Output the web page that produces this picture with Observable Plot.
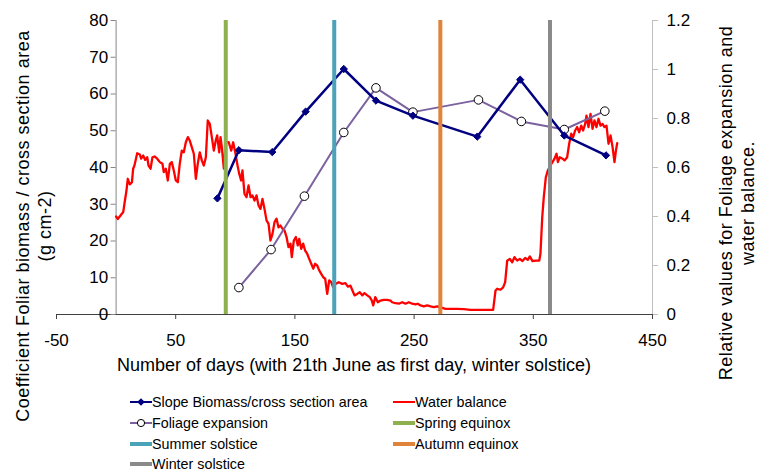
<!DOCTYPE html>
<html><head><meta charset="utf-8">
<script src="https://cdn.jsdelivr.net/npm/d3@7"></script>
<script src="https://cdn.jsdelivr.net/npm/@observablehq/plot@0.6"></script>
<style>
body{margin:0;background:#fff;font-family:"Liberation Sans",Arial,sans-serif;color:#000;}
#wrap{position:relative;width:757px;height:473px;overflow:hidden;}
.vt{position:absolute;white-space:nowrap;font-size:18px;letter-spacing:0.5px;line-height:21.5px;text-align:center;transform:translate(-50%,-50%) rotate(-90deg);}
.xt{position:absolute;white-space:nowrap;font-size:18px;transform:translate(-50%,-50%);}
.lg{position:absolute;display:flex;align-items:center;font-size:14.3px;white-space:nowrap;transform:translateY(-50%);}
.lg svg{display:block;}
</style></head>
<body>
<div id="wrap"></div>
<script>
// ---- data ----
const xTicks = [-50, 50, 150, 250, 350, 450];
const leftTicks = [0, 10, 20, 30, 40, 50, 60, 70, 80];
const rightTicks = [0, 0.2, 0.4, 0.6, 0.8, 1, 1.2];
const rightTickLabels = ["0", "0.2", "0.4", "0.6", "0.8", "1", "1.2"];

const slopeDays = [85, 103, 131, 159, 191, 218, 249, 303, 339, 376, 411];
const slopeVals = [31.6, 44.7, 44.2, 55.2, 66.8, 58.2, 54.1, 48.4, 63.9, 48.7, 43.3];

const foliageDays = [103, 130, 158, 191, 218, 249, 304, 340, 376, 410];
const foliageVals = [0.11, 0.265, 0.483, 0.743, 0.925, 0.826, 0.876, 0.788, 0.755, 0.83];

const waterDays = [0, 1.4, 3.7, 6, 7, 8.7, 9.8, 11.5, 13.3, 14.3, 15.4, 17.7, 19.9, 21, 22.7, 24.4, 26.1, 27.2, 28.9, 30.5, 32.2, 34.5, 36.7, 38.9, 40, 41.7, 43.4, 45.1, 46.7, 48.4, 50.1, 51.8, 53.4, 55.1, 56.8, 58.5, 60.2, 61.8, 63.5, 65.2, 66.9, 68.5, 70.2, 71.9, 73.6, 75.3, 76.9, 78.6, 80.3, 82, 83.6, 84.8, 86.5, 87.6, 88.7, 90.4, 92, 94.5, 96.6, 98.2, 100.2, 101.6, 103.3, 104.9, 106, 107.7, 109.4, 111.1, 112.8, 114.4, 116.1, 117.8, 119.5, 121.1, 122.8, 124.5, 126.2, 127.9, 129.5, 131.2, 132.9, 134.6, 136.2, 137.9, 139.6, 141.3, 143, 144.6, 146.3, 147.4, 149.1, 150.8, 152.4, 153.6, 155.3, 156.9, 158.6, 160.3, 162, 163.7, 165.4, 167, 168.7, 170.4, 172.1, 173.8, 175.4, 177.1, 178.8, 180.5, 182.1, 184.1, 186.8, 189.7, 192.4, 194.4, 196.6, 198.3, 200, 202.3, 204.4, 206.5, 208.4, 210.7, 212.8, 214.5, 215.7, 217.4, 219.6, 221.8, 224.6, 227.4, 230.2, 231.6, 234.4, 237.2, 240, 242.8, 245.6, 248.4, 251.2, 253.1, 255.4, 258.1, 261, 263.8, 266.5, 269.4, 273.6, 276.3, 280.5, 286.2, 291.7, 297.3, 302.9, 308.5, 316.3, 318.3, 319.7, 322.5, 324.7, 326.4, 328.1, 330.3, 332.3, 334.2, 336.5, 338.7, 340.9, 343.2, 345.4, 347.1, 349.3, 352.1, 355, 356, 357.5, 358.8, 360.5, 362.2, 364.5, 366.1, 367.8, 369.5, 370.6, 372.2, 374.5, 376.2, 378.4, 380.1, 381.8, 383.4, 385.1, 386.8, 388.5, 390.2, 391.8, 393.5, 394.6, 396.3, 398, 399.7, 401.3, 403, 404.7, 406.4, 408.1, 409.7, 411.4, 413.1, 414.8, 416.5, 418.1, 419.3, 420.4];
const waterVals = [0.40, 0.39, 0.404, 0.418, 0.452, 0.506, 0.554, 0.531, 0.540, 0.595, 0.608, 0.658, 0.653, 0.636, 0.649, 0.631, 0.642, 0.608, 0.595, 0.642, 0.645, 0.636, 0.622, 0.615, 0.581, 0.595, 0.547, 0.615, 0.622, 0.588, 0.547, 0.540, 0.615, 0.669, 0.662, 0.703, 0.724, 0.710, 0.683, 0.656, 0.554, 0.615, 0.662, 0.629, 0.608, 0.642, 0.792, 0.778, 0.724, 0.669, 0.710, 0.731, 0.662, 0.724, 0.683, 0.595, 0.703, 0.703, 0.669, 0.703, 0.656, 0.615, 0.574, 0.547, 0.588, 0.493, 0.479, 0.527, 0.479, 0.486, 0.465, 0.486, 0.445, 0.431, 0.472, 0.431, 0.384, 0.370, 0.302, 0.329, 0.377, 0.391, 0.356, 0.363, 0.350, 0.343, 0.316, 0.275, 0.289, 0.234, 0.302, 0.316, 0.282, 0.309, 0.268, 0.289, 0.261, 0.248, 0.227, 0.207, 0.187, 0.207, 0.200, 0.180, 0.166, 0.152, 0.146, 0.084, 0.139, 0.132, 0.111, 0.125, 0.132, 0.125, 0.128, 0.114, 0.118, 0.098, 0.078, 0.084, 0.091, 0.078, 0.087, 0.078, 0.071, 0.057, 0.037, 0.071, 0.050, 0.057, 0.060, 0.060, 0.057, 0.050, 0.046, 0.044, 0.050, 0.044, 0.050, 0.044, 0.041, 0.044, 0.037, 0.033, 0.037, 0.033, 0.030, 0.033, 0.027, 0.023, 0.023, 0.023, 0.022, 0.019, 0.019, 0.019, 0.019, 0.098, 0.105, 0.101, 0.111, 0.132, 0.220, 0.227, 0.213, 0.234, 0.220, 0.227, 0.218, 0.231, 0.223, 0.237, 0.218, 0.220, 0.220, 0.248, 0.397, 0.479, 0.560, 0.588, 0.610, 0.622, 0.636, 0.656, 0.622, 0.642, 0.636, 0.629, 0.642, 0.697, 0.738, 0.724, 0.751, 0.765, 0.744, 0.771, 0.751, 0.778, 0.812, 0.765, 0.819, 0.758, 0.792, 0.765, 0.799, 0.771, 0.778, 0.765, 0.771, 0.697, 0.731, 0.683, 0.622, 0.669, 0.699];

const eventNames = ["Spring equinox", "Summer solstice", "Autumn equinox", "Winter solstice"];
const eventDays = [92, 183, 272, 364];
const eventColors = ["#8EB04F", "#4BA3BA", "#E0843C", "#8A8A8A"];

const seriesNames = ["Slope Biomass/cross section area", "Foliage expansion", "Water balance"];
const seriesColors = ["#000080", "#7B619E", "#FF0000"];

// ---- tables ----
const K = 80 / 1.2; // right axis units -> left axis units
const slope = slopeDays.map((d, i) => ({day: d, v: slopeVals[i]}));
const foliage = foliageDays.map((d, i) => ({day: d, v: foliageVals[i]}));
const water = waterDays.map((d, i) => ({day: d, v: waterVals[i]}));
const events = eventDays.map((d, i) => ({day: d, name: eventNames[i], color: eventColors[i]}));

const W = 757, H = 473, mL = 56, mR = 105, mT = 20, mB = 159;
const zeroOffset = (W - mL - mR) * (0 - xTicks[0]) / (xTicks[xTicks.length - 1] - xTicks[0]);

const chart = Plot.plot({
  width: W, height: H,
  marginLeft: mL, marginRight: mR, marginTop: mT, marginBottom: mB,
  x: {domain: [xTicks[0], xTicks[xTicks.length - 1]]},
  y: {domain: [leftTicks[0], leftTicks[leftTicks.length - 1]]},
  color: {type: "identity"},
  style: {fontFamily: "'Liberation Sans', Arial, sans-serif", fontSize: "17px", color: "#000", background: "#fff"},
  marks: [
    Plot.ruleY([0], {stroke: "#404040", strokeWidth: 1}),
    Plot.axisX(xTicks, {tickSize: 5, tickPadding: 14, stroke: "#404040", fill: "#000", tickFormat: d => String(d), label: null}),
    Plot.ruleX([0], {stroke: "#868686", strokeWidth: 1}),
    Plot.axisY(leftTicks, {anchor: "left", dx: zeroOffset, tickSize: 5, tickPadding: 3, stroke: "#868686", fill: "#000", tickFormat: d => String(d), label: null}),
    Plot.ruleX([xTicks[xTicks.length - 1]], {stroke: "#BFBFBF", strokeWidth: 1}),
    Plot.axisY(rightTicks.map(v => v * K), {anchor: "right", tickSize: 5, tickPadding: 9, stroke: "#BFBFBF", fill: "#000",
      tickFormat: d => rightTickLabels[rightTicks.findIndex(v => Math.abs(v * K - d) < 1e-6)], label: null}),
    Plot.line(water, {x: "day", y: d => d.v * K, stroke: seriesColors[2], strokeWidth: 2.3}),
    Plot.line(foliage, {x: "day", y: d => d.v * K, stroke: seriesColors[1], strokeWidth: 2}),
    Plot.dot(foliage, {x: "day", y: d => d.v * K, r: 4.3, stroke: "#000", fill: "#fff", strokeWidth: 1}),
    Plot.line(slope, {x: "day", y: "v", stroke: seriesColors[0], strokeWidth: 2.5}),
    Plot.dot(slope, {x: "day", y: "v", symbol: "diamond2", r: 3.3, fill: seriesColors[0], stroke: seriesColors[0], strokeWidth: 1}),
    Plot.ruleX(events, {x: "day", stroke: "color", strokeWidth: 4})
  ]
});

const wrap = document.getElementById("wrap");
wrap.appendChild(chart);

function addDiv(cls, html, x, y) {
  const el = document.createElement("div");
  el.className = cls;
  el.innerHTML = html;
  el.style.left = x + "px";
  el.style.top = y + "px";
  wrap.appendChild(el);
  return el;
}
addDiv("vt", "Coefficient Foliar biomass / cross section area<br>(g cm-2)", 33.5, 226);
addDiv("vt", "Relative values for Foliage expansion and<br>water balance.", 737, 203);
addDiv("xt", "Number of days (with 21th June as first day, winter solstice)", 354, 365);

// legend
const legendItems = [
  {name: seriesNames[0], color: seriesColors[0], kind: "diamond", col: 0, row: 0},
  {name: seriesNames[2], color: seriesColors[2], kind: "line", col: 1, row: 0},
  {name: seriesNames[1], color: seriesColors[1], kind: "circle", col: 0, row: 1},
  {name: eventNames[0], color: eventColors[0], kind: "thick", col: 1, row: 1},
  {name: eventNames[1], color: eventColors[1], kind: "thick", col: 0, row: 2},
  {name: eventNames[2], color: eventColors[2], kind: "thick", col: 1, row: 2},
  {name: eventNames[3], color: eventColors[3], kind: "thick", col: 0, row: 3}
];
const colX = [130, 393], rowY = [402, 423, 443.5, 464];
for (const it of legendItems) {
  let sw = `<svg width="22" height="12" viewBox="0 0 22 12">`;
  const sWidth = it.kind === "thick" ? 4 : 2;
  sw += `<line x1="0" y1="6" x2="22" y2="6" stroke="${it.color}" stroke-width="${sWidth}"/>`;
  if (it.kind === "diamond") sw += `<path d="M11,2.2L14.8,6L11,9.8L7.2,6Z" fill="${it.color}"/>`;
  if (it.kind === "circle") sw += `<circle cx="11" cy="6" r="3.6" fill="#fff" stroke="#000" stroke-width="1"/>`;
  sw += `</svg>`;
  addDiv("lg", sw + `<span>${it.name}</span>`, colX[it.col], rowY[it.row]);
}
</script>
</body></html>
